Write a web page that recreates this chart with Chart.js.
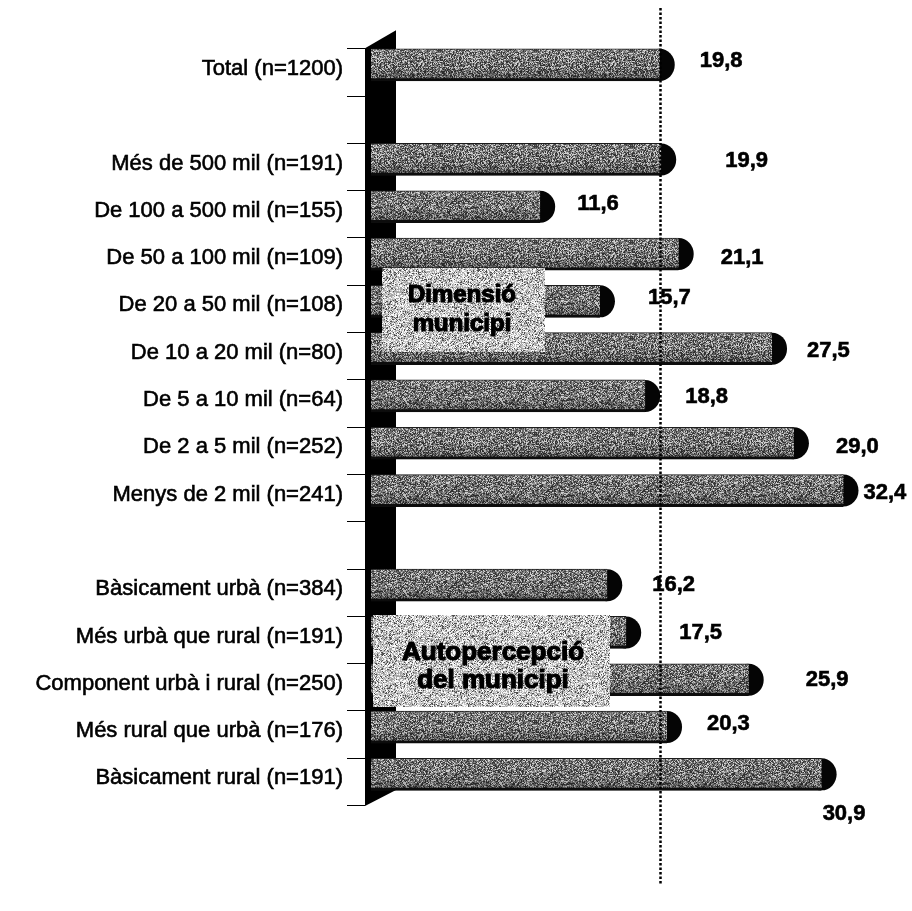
<!DOCTYPE html>
<html>
<head>
<meta charset="utf-8">
<script src="https://cdn.jsdelivr.net/npm/chart.js@4.4.1/dist/chart.umd.min.js"></script>
<style>
  html, body { margin: 0; background: #fff; }
  #wrap { width: 912px; height: 911px; }
</style>
</head>
<body>
<div id="wrap"><canvas id="myChart"></canvas></div>
<script>
// rows, top to bottom (empty strings are spacer rows between groups)
const categories = [
  'Total (n=1200)', '',
  'Més de 500 mil (n=191)', 'De 100 a 500 mil (n=155)', 'De 50 a 100 mil (n=109)',
  'De 20 a 50 mil (n=108)', 'De 10 a 20 mil (n=80)', 'De 5 a 10 mil (n=64)',
  'De 2 a 5 mil (n=252)', 'Menys de 2 mil (n=241)', '',
  'Bàsicament urbà (n=384)', 'Més urbà que rural (n=191)', 'Component urbà i rural (n=250)',
  'Més rural que urbà (n=176)', 'Bàsicament rural (n=191)'
];
const percentages = [19.8, null, 19.9, 11.6, 21.1, 15.7, 27.5, 18.8, 29.0, 32.4, null, 16.2, 17.5, 25.9, 20.3, 30.9];
const totalValue = 19.8;
const groupTitles = [['Dimensió', 'municipi'], ['Autopercepció', 'del municipi']];

// value label offsets: [dx from the rounded bar end, dy from bar centre]
const labelShift = [[25, -4], null, [49, 1], [22, -3], [27, 4], [33, -3], [20, 2], [25, 1], [27, 4], [5, 2],
  null, [30, 0], [38, 0], [42, 0], [25, -3], [-14, 40]];
// group caption boxes (pixels)
const groupBoxes = [
  { x: 382, y: 268, w: 163, h: 84, size: 24, cx: 462, base: [302, 331] },
  { x: 373, y: 615, w: 237, h: 92, size: 26, cx: 493, base: [660, 688] }
];

const FONT = "'Liberation Sans', Arial, sans-serif";

// speckled fill like a photocopied halftone
function speckle(levels, seed) {
  const size = 96;
  const c = document.createElement('canvas');
  c.width = c.height = size;
  const g = c.getContext('2d');
  const img = g.createImageData(size, size);
  let s = seed;
  for (let i = 0; i < size * size; i++) {
    s = (s * 1103515245 + 12345) & 0x7fffffff;
    const r = s / 0x7fffffff;
    let v = levels[levels.length - 1][1];
    for (const [p, val] of levels) { if (r < p) { v = val; break; } }
    img.data[i * 4] = img.data[i * 4 + 1] = img.data[i * 4 + 2] = v;
    img.data[i * 4 + 3] = 255;
  }
  g.putImageData(img, 0, 0);
  return g.createPattern(c, 'repeat');
}

const barFill = speckle([[0.25, 50], [0.55, 100], [0.8, 145], [1, 210]], 7);
const boxFill = speckle([[0.14, 80], [0.42, 165], [0.72, 205], [1, 250]], 13);

const bars3d = {
  id: 'bars3d',
  beforeDatasetsDraw(chart) {
    const { ctx, chartArea } = chart;
    const slot = chartArea.height / categories.length;
    const top = chartArea.top + 7, bottom = chartArea.bottom + 7;
    ctx.save();
    // left wall
    ctx.fillStyle = '#000';
    ctx.beginPath();
    ctx.moveTo(chartArea.left - 6, top);
    ctx.lineTo(chartArea.left + 25, top - 18);
    ctx.lineTo(chartArea.left + 25, bottom - 15);
    ctx.lineTo(chartArea.left - 6, bottom + 1);
    ctx.closePath();
    ctx.fill();
    // tick marks between rows
    ctx.strokeStyle = '#000';
    ctx.lineWidth = 1;
    for (let k = 0; k <= categories.length; k++) {
      const y = Math.round(top + k * slot) + 0.5;
      ctx.beginPath();
      ctx.moveTo(chartArea.left - 24, y);
      ctx.lineTo(chartArea.left - 6, y);
      ctx.stroke();
    }
    // rounded end caps
    chart.getDatasetMeta(0).data.forEach((bar, i) => {
      if (percentages[i] == null) return;
      const p = bar.getProps(['x', 'y', 'height'], true);
      ctx.beginPath();
      ctx.ellipse(p.x, p.y, 15, p.height / 2, 0, 0, Math.PI * 2);
      ctx.fillStyle = '#050505';
      ctx.fill();
    });
    ctx.restore();
  },
  afterDatasetsDraw(chart) {
    const { ctx } = chart;
    const xs = chart.scales.x;
    ctx.save();
    // soft shading on the lower half of each bar
    chart.getDatasetMeta(0).data.forEach((bar, i) => {
      if (percentages[i] == null) return;
      const p = bar.getProps(['x', 'y', 'base', 'height'], true);
      const y0 = p.y - p.height / 2;
      const grad = ctx.createLinearGradient(0, y0, 0, y0 + p.height);
      grad.addColorStop(0, 'rgba(255,255,255,0.08)');
      grad.addColorStop(0.5, 'rgba(0,0,0,0)');
      grad.addColorStop(1, 'rgba(0,0,0,0.3)');
      ctx.fillStyle = grad;
      ctx.fillRect(p.base, y0, p.x - p.base, p.height);
    });

    // group caption boxes
    groupBoxes.forEach((b, i) => {
      ctx.fillStyle = boxFill;
      ctx.fillRect(b.x, b.y, b.w, b.h);
      ctx.font = 'bold ' + b.size + 'px ' + FONT;
      ctx.textAlign = 'center';
      ctx.textBaseline = 'alphabetic';
      ctx.fillStyle = '#000';
      ctx.strokeStyle = '#000';
      ctx.lineWidth = 1.2;
      groupTitles[i].forEach((line, j) => {
        ctx.strokeText(line, b.cx, b.base[j]);
        ctx.fillText(line, b.cx, b.base[j]);
      });
    });

    // dotted reference line at the total
    const xr = Math.round(xs.getPixelForValue(totalValue)) + 0.5;
    ctx.strokeStyle = '#000';
    ctx.lineWidth = 2.5;
    ctx.setLineDash([2.5, 2]);
    ctx.beginPath();
    ctx.moveTo(xr, 8);
    ctx.lineTo(xr, 885);
    ctx.stroke();
    ctx.setLineDash([]);

    // value labels
    ctx.font = 'bold 22px ' + FONT;
    ctx.textAlign = 'left';
    ctx.textBaseline = 'middle';
    ctx.fillStyle = '#000';
    ctx.lineWidth = 0.6;
    chart.getDatasetMeta(0).data.forEach((bar, i) => {
      if (percentages[i] == null) return;
      const p = bar.getProps(['x', 'y'], true);
      const [dx, dy] = labelShift[i];
      const txt = percentages[i].toFixed(1).replace('.', ',');
      ctx.strokeText(txt, p.x + 15 + dx, p.y + dy);
      ctx.fillText(txt, p.x + 15 + dx, p.y + dy);
    });
    ctx.restore();
  }
};

const data = {
  labels: categories,
  datasets: [{
    data: percentages,
    backgroundColor: barFill,
    borderColor: '#111',
    borderWidth: { top: 1, bottom: 3, left: 0, right: 0 },
    borderSkipped: false,
    barThickness: 32
  }]
};

const config = {
  type: 'bar',
  data: data,
  options: {
    indexAxis: 'y',
    responsive: true,
    maintainAspectRatio: false,
    animation: false,
    layout: { padding: { top: 38, bottom: 113, left: 0, right: 16 } },
    plugins: {
      legend: { display: false },
      tooltip: { enabled: false }
    },
    scales: {
      x: { display: false, min: 0, max: 36 },
      y: {
        afterFit(scale) { scale.width = 371; },
        grid: { display: false, drawTicks: false },
        border: { display: false },
        ticks: {
          autoSkip: false,
          padding: 28,
          labelOffset: 4,
          color: '#000',
          textStrokeColor: '#000',
          textStrokeWidth: 0.6,
          font: { family: FONT, size: 22 }
        }
      }
    }
  },
  plugins: [bars3d]
};

const myBarChart = new Chart(document.getElementById('myChart'), config);
</script>
</body>
</html>
